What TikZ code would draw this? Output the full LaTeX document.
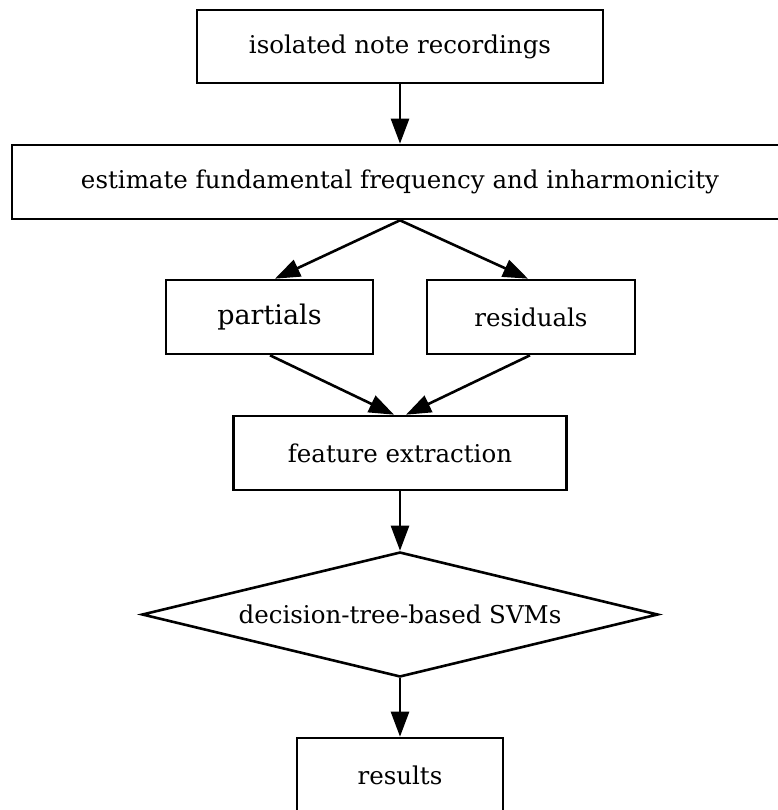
\documentclass[tikz,border=0pt]{standalone}
\usepackage{fontspec}
\setmainfont{DejaVu Serif}
\usetikzlibrary{arrows.meta,shapes.geometric}
\begin{document}
\begin{tikzpicture}[x=1pt,y=-1pt,
  every node/.style={font=\fontsize{24.5}{26}\selectfont},
  box/.style={draw,line width=2.6pt,rectangle,inner sep=0pt},
  dec/.style={draw,line width=2.6pt,diamond,inner sep=0pt,aspect=4},
  arr/.style={line width=2.6pt,-{Triangle[length=25pt,width=18pt]}}]
\useasboundingbox (0,0) rectangle (777,810);
\node[box,minimum width=406pt,minimum height=73pt] (rec) at (400,46.5) {isolated note recordings};
\node[box,minimum width=776pt,minimum height=74pt] (est) at (400,182) {estimate fundamental frequency and inharmonicity};
\node[box,minimum width=207pt,minimum height=74pt,font=\fontsize{27}{29}\selectfont] (par) at (269.5,317) {partials};
\node[box,minimum width=208pt,minimum height=74pt] (res) at (531,317) {residuals};
\node[box,minimum width=333pt,minimum height=74pt] (fea) at (400,453) {feature extraction};
\node[dec,minimum width=516pt,minimum height=125pt] (svm) at (400,614.5) {decision-tree-based SVMs};
\node[box,minimum width=206pt,minimum height=74pt] (out) at (400,775) {results};
\draw[arr] (rec) -- (est);
\draw[arr] (est.south) -- (par.north -| 275,0);
\draw[arr] (est.south) -- (res.north -| 528,0);
\draw[arr] (par.south -| 270,0) -- (fea.north -| 394,0);
\draw[arr] (res.south -| 530,0) -- (fea.north -| 406,0);
\draw[arr] (fea) -- (svm);
\draw[arr] (svm) -- (out);
\end{tikzpicture}
\end{document}
